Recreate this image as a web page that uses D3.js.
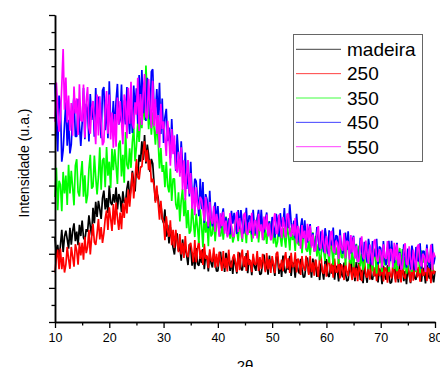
<!DOCTYPE html>
<html><head><meta charset="utf-8">
<script src="https://cdn.jsdelivr.net/npm/d3@7"></script>
<style>body{margin:0;background:#fff}svg{display:block}text{font-family:"Liberation Sans",Arial,sans-serif}</style>
</head><body>
<svg id="c" width="440" height="367"></svg>
<script>
// 2θ grid: 10° to 80° in 0.25° steps (one row = one degree)
const xStart = 10, xStep = 0.25;
const seriesNames = ["madeira", "250", "350", "450", "550"];
const seriesColors = ["#000000", "#ff0000", "#00ff00", "#0000ff", "#ff00ff"];
const xTicks = [10, 20, 30, 40, 50, 60, 70, 80];
const xMinorTicks = [15, 25, 35, 45, 55, 65, 75];
const yTicks = [0, 100, 200, 300, 400, 500, 600, 700, 800, 900];
const yMinorTicks = [50, 150, 250, 350, 450, 550, 650, 750, 850];

const madeira = [
248,193,226,183, 225,270,205,250, 268,243,215,276, 227,267,289,237, 265,225,285,252,
297,247,240,272, 265,313,280,253, 335,290,352,308, 355,330,302,363, 385,330,363,320,
400,350,343,375, 350,395,330,375, 363,323,383,350, 352,392,414,362, 395,443,410,383,
455,430,490,470, 530,475,548,465, 520,490,440,478, 465,405,355,380, 365,325,345,302,
290,330,250,285, 230,278,245,218, 198,238,260,208, 225,180,242,198, 220,195,167,228,
220,165,198,155, 217,171,165,194, 173,214,155,196, 185,148,203,173, 160,203,174,149,
150,186,206,159, 188,147,203,163, 200,150,180,141, 190,168,142,197, 203,157,151,180,
161,202,143,184, 174,137,192,162, 150,193,164,139, 142,178,198,151, 180,139,195,155,
183,160,135,190, 191,141,171,132, 195,150,143,172, 153,194,135,176, 166,130,184,154,
142,185,155,131, 133,169,189,142, 171,130,186,146, 182,132,162,123, 172,150,124,179,
184,138,132,161, 142,183,124,165, 155,119,173,143, 131,174,144,120, 123,159,179,132,
161,120,176,136, 173,123,153,114, 163,140,115,170, 176,130,124,153, 134,175,116,157,
147,111,165,135, 124,167,137,113, 117,153,173,126, 157,116,172,132, 170,120,150,111,
162,139,114,169, 176,130,124,153, 136,177,118,159, 150,113,168,138, 127,170,140,116,
150];

const s250 = [
145,188,212,155, 215,155,190,145, 168,220,185,156, 220,192,162,228, 210,168,233,195,
232,183,250,202, 220,270,198,248, 288,234,226,260, 302,242,278,232, 260,303,327,270,
336,303,267,346, 285,350,305,270, 321,272,348,305, 365,318,388,338, 388,438,362,418,
478,425,418,455, 455,498,530,470, 505,445,475,410, 420,400,350,400, 350,300,355,305,
295,240,310,268, 250,298,225,270, 218,270,235,205, 258,198,232,188, 252,200,190,225,
232,205,175,240, 175,215,237,185, 212,167,229,185, 195,158,213,182, 176,218,159,200,
162,206,177,150, 208,158,188,148, 212,166,160,189, 198,175,147,206, 152,190,212,162,
193,150,210,167, 182,146,200,170, 168,208,150,190, 156,200,172,146, 202,154,184,144,
193,170,143,200, 206,160,154,183, 149,185,205,157, 187,144,203,161, 163,204,145,186,
175,138,193,162, 150,194,164,138, 194,146,175,136, 183,160,132,190, 193,148,141,170,
133,169,190,143, 171,130,186,146, 146,187,128,169, 159,123,177,147, 134,178,148,123,
179,130,159,120, 170,147,120,177, 182,137,130,160, 124,161,180,134, 161,120,176,136,
137,178,119,160, 152,115,170,140, 128,172,142,116, 176,126,155,116, 180,134,127,157,
165,142,116,173, 121,158,180,131, 161,118,178,136, 138,180,120,161, 152,114,172,140,
150];

const s350 = [
366,452,328,414, 402,325,440,377, 429,343,461,377, 443,395,342,458, 477,381,368,429,
472,367,430,348, 372,448,490,391, 397,488,425,374, 426,512,388,474, 481,395,513,429,
470,393,508,445, 506,458,405,521, 532,427,490,408, 557,461,448,509, 452,528,570,471,
515,585,528,600, 568,645,592,752, 653,565,618,549, 615,570,520,590, 530,450,510,440,
460,395,470,400, 380,450,355,420, 420,345,330,380, 295,357,390,310, 363,275,328,259,
268,345,292,249, 317,277,232,330, 283,219,315,262, 294,222,321,251, 259,309,237,287,
314,258,251,286, 241,285,309,252, 305,244,281,233, 250,303,266,237, 293,265,235,302,
276,231,298,261, 285,235,303,255, 255,306,233,283, 303,247,240,275, 229,273,296,240,
291,230,267,219, 235,287,250,221, 276,248,218,283, 255,210,277,240, 258,208,278,230,
224,274,202,252, 269,213,206,241, 195,239,263,206, 253,192,229,181, 192,245,208,179,
232,204,174,241, 212,167,234,197, 220,170,238,190, 188,238,166,216, 234,178,171,206,
161,205,229,172, 224,163,200,152, 168,221,184,155, 208,180,148,215, 187,142,209,172,
197,147,215,167, 169,219,147,197, 219,163,156,191, 149,193,217,160, 214,153,190,142,
160,213,176,147, 204,176,146,213, 188,143,210,173, 199,149,217,169, 171,221,149,199,
190];

const s450 = [
700,588,500,664, 636,470,504,578, 644,517,593,494, 521,613,663,544, 544,654,578,516,
582,686,536,640, 622,529,668,592, 647,543,686,584, 661,603,539,679, 689,562,638,539,
706,590,574,648, 556,648,698,579, 592,696,546,650, 579,689,613,551, 647,554,693,617,
685,581,724,622, 739,612,688,589, 716,658,594,734, 741,625,609,683, 597,701,551,655,
525,600,625,530, 570,480,595,510, 520,443,550,490, 437,530,460,410, 497,390,450,368,
470,375,360,420, 413,365,310,420, 331,410,290,375, 359,275,385,305, 280,326,351,291,
340,283,275,312, 333,269,307,258, 303,257,326,288, 320,291,258,328, 273,328,290,259,
283,335,260,312, 309,257,329,278, 259,304,329,269, 329,271,263,300, 321,257,295,246,
308,279,247,317, 296,250,319,281, 282,334,259,311, 275,345,292,261, 297,245,317,266,
233,279,304,244, 298,241,233,270, 287,223,261,212, 223,278,240,209, 266,237,205,275,
246,200,269,231, 225,277,202,254, 251,199,271,220, 200,246,262,211, 266,209,201,238,
253,189,227,178, 192,247,209,178, 235,206,174,244, 213,168,237,199, 192,244,169,221,
217,165,237,186, 167,213,238,178, 238,181,173,210, 232,168,206,157, 173,228,190,159,
215,186,154,224, 197,151,220,182, 178,231,156,208, 207,155,227,176, 158,204,229,169,
190];

const s550 = [
587,702,623,558, 598,694,800,622, 717,585,664,561, 642,546,690,611, 656,548,697,591,
588,696,540,648, 689,569,552,629, 648,588,521,667, 547,662,583,518, 528,624,677,552,
667,535,614,511, 610,514,658,579, 648,588,521,667, 646,538,687,581, 704,584,567,644,
608,716,560,668, 578,674,727,602, 597,712,633,568, 707,575,654,551, 607,511,640,566,
588,540,487,590, 544,458,566,492, 547,451,438,499, 426,512,388,474, 357,433,475,376,
437,332,395,313, 395,338,330,367, 358,329,297,367, 332,280,352,301, 288,340,265,317,
296,250,319,281, 323,259,297,248, 264,319,281,250, 252,297,323,264, 305,276,244,314,
320,263,255,292, 268,320,245,297, 297,245,317,266, 286,240,309,271, 315,251,289,240,
248,294,319,259, 260,315,277,246, 308,279,247,317, 315,258,250,287, 253,305,230,282,
261,215,284,246, 268,216,288,237, 282,218,256,207, 210,256,281,221, 215,270,232,201,
253,224,192,262, 267,210,202,239, 231,185,254,216, 209,261,186,238, 235,183,255,204,
250,186,224,175, 180,226,251,191, 184,239,201,170, 227,198,166,236, 242,185,177,214,
205,159,228,190, 185,237,162,214, 212,160,232,181, 228,164,202,153, 160,206,231,171,
167,222,184,153, 212,183,151,221, 228,171,163,200, 193,147,216,178, 175,227,152,204,
190];

const seriesData = [madeira, s250, s350, s450, s550];

const svg = d3.select("#c");
const x = d3.scaleLinear().domain([10, 80]).range([55, 435]);
const y = d3.scaleLinear().domain([0, 900]).range([322, 15]);

// series
const line = d3.line()
  .x((d, i) => x(xStart + i * xStep))
  .y(d => y(d));
seriesData.forEach((data, k) => {
  svg.append("path")
    .datum(data)
    .attr("fill", "none")
    .attr("stroke", seriesColors[k])
    .attr("stroke-width", 1.7)
    .attr("stroke-linejoin", "bevel")
    .attr("d", line);
});

// axes
function styleAxis(g) {
  g.select(".domain").attr("stroke", "#000").attr("stroke-width", 1.5);
  g.selectAll(".tick line").attr("stroke", "#000").attr("stroke-width", 1.3);
  g.selectAll("text").attr("font-family", "'Liberation Sans', Arial, sans-serif")
    .attr("font-size", 12.5).attr("fill", "#000");
}
svg.append("g").attr("transform", "translate(0,322)")
  .call(d3.axisBottom(x).tickValues(xMinorTicks).tickSize(3.5).tickFormat("").tickSizeOuter(0))
  .call(styleAxis);
svg.append("g").attr("transform", "translate(0,322)")
  .call(d3.axisBottom(x).tickValues(xTicks).tickSize(6).tickPadding(5).tickFormat(d3.format("d")).tickSizeOuter(0))
  .call(styleAxis);
svg.append("g").attr("transform", "translate(55,0)")
  .call(d3.axisLeft(y).tickValues(yMinorTicks).tickSize(3.5).tickFormat("").tickSizeOuter(0))
  .call(styleAxis);
svg.append("g").attr("transform", "translate(55,0)")
  .call(d3.axisLeft(y).tickValues(yTicks).tickSize(6).tickFormat("").tickSizeOuter(0))
  .call(styleAxis);

// axis titles
svg.append("text").attr("x", 245).attr("y", 371).attr("text-anchor", "middle")
  .attr("font-size", 15).text("2θ");
svg.append("text").attr("transform", "translate(29,163) rotate(-90)")
  .attr("text-anchor", "middle").attr("font-size", 14).text("Intensidade (u.a.)");

// legend
const lg = svg.append("g");
lg.append("rect").attr("x", 293.5).attr("y", 34.5).attr("width", 129).attr("height", 127)
  .attr("fill", "#fff").attr("stroke", "#666").attr("stroke-width", 1);
seriesNames.forEach((name, k) => {
  const yy = 49.3 + k * 24.35;
  lg.append("line").attr("x1", 296).attr("x2", 341).attr("y1", yy).attr("y2", yy)
    .attr("stroke", seriesColors[k]).attr("stroke-width", 1).attr("stroke-opacity", 0.75);
  lg.append("text").attr("x", 347).attr("y", yy + 6.8).attr("font-size", 19)
    .attr("fill", "#000").text(name);
});
</script>
</body></html>
